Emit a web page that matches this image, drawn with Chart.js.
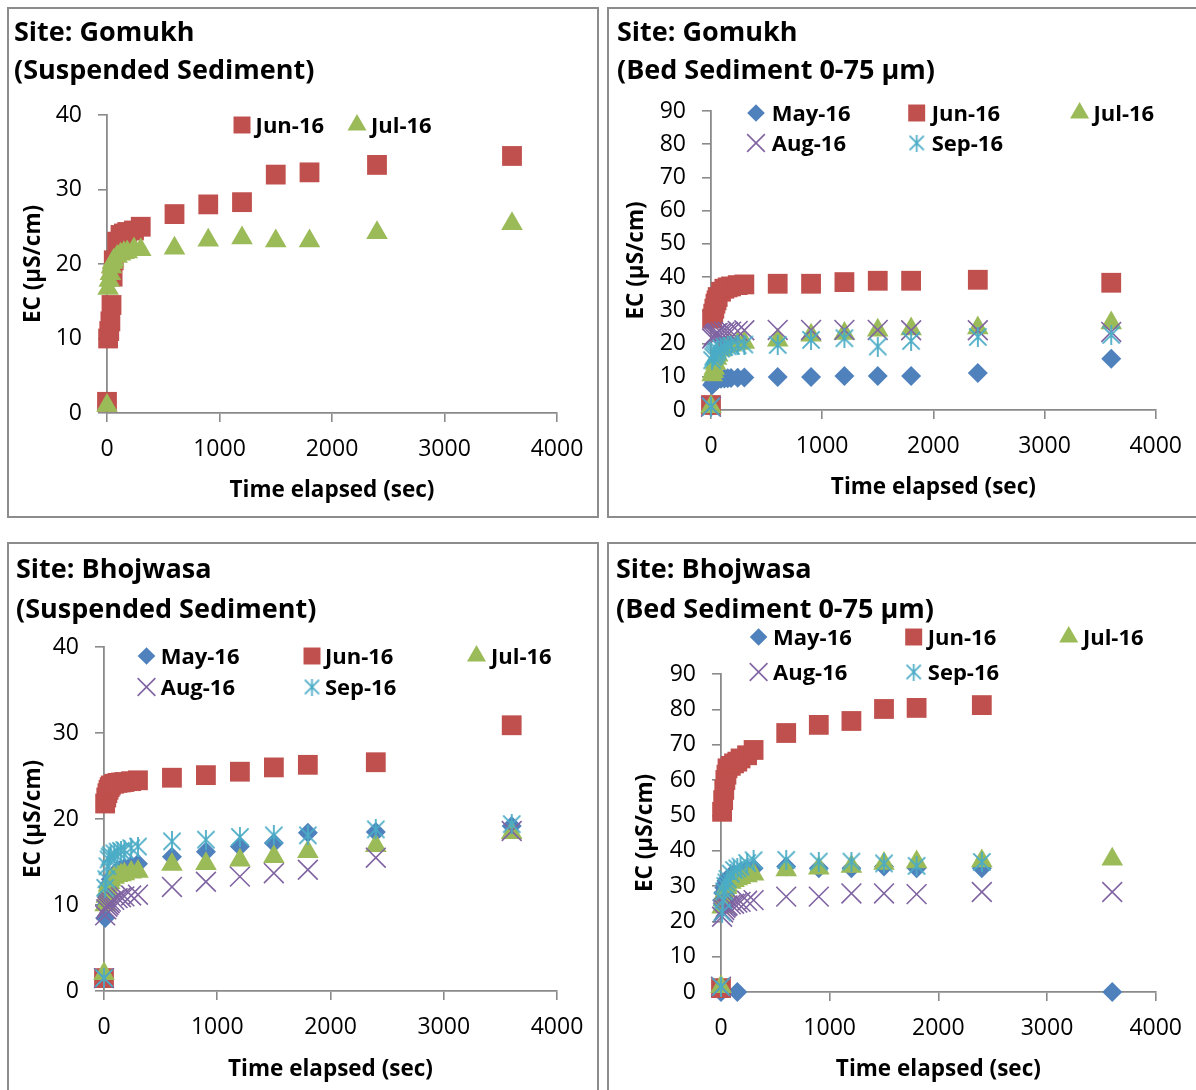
<!DOCTYPE html>
<html>
<head>
<meta charset="utf-8">
<title>EC vs time elapsed</title>
<script src="https://cdn.jsdelivr.net/npm/chart.js@4.4.1/dist/chart.umd.min.js"></script>
<style>
  html, body { margin: 0; padding: 0; background: #fff; overflow: hidden; }
  body { width: 1196px; height: 1090px; position: relative; }
  .frame { position: absolute; border: 2px solid #8c8c8c; box-sizing: border-box; }
  canvas { position: absolute; }
</style>
</head>
<body>
<div class="frame" style="left:7px;top:7px;width:592px;height:511px"></div>
<div class="frame" style="left:607px;top:7px;width:600px;height:511px"></div>
<div class="frame" style="left:7px;top:542px;width:592px;height:560px"></div>
<div class="frame" style="left:607px;top:542px;width:600px;height:560px"></div>
<canvas id="c1" width="590" height="509" style="left:8px;top:8px"></canvas>
<canvas id="c2" width="588" height="509" style="left:608px;top:8px"></canvas>
<canvas id="c3" width="590" height="547" style="left:8px;top:543px"></canvas>
<canvas id="c4" width="588" height="547" style="left:608px;top:543px"></canvas>
<script>
// sampling times of the test (sec)
const timeSec = [0, 10, 20, 30, 40, 50, 60, 90, 120, 150, 180, 240, 300, 600, 900, 1200, 1500, 1800, 2400, 3600];
const xTicks = [0, 1000, 2000, 3000, 4000];

// Gomukh - suspended sediment
const gomukhSusJun = [1.5, 10.0, 11.0, 12.3, 14.5, 18.3, 20.5, 23.0, 23.9, 24.1, 24.3, 24.5, 25.0, 26.7, 28.0, 28.3, 32.0, 32.3, 33.3, 34.5];
const gomukhSusJul = [1.0, 16.7, 17.8, 18.7, 19.6, 20.2, 20.5, 21.0, 21.3, 21.5, 21.6, 22.0, 21.9, 22.1, 23.2, 23.5, 23.1, 23.1, 24.2, 25.4];

// Gomukh - bed sediment 0-75 um
const gomukhBedMay = [1.0, 7.5, 8.0, 8.5, 8.8, 9.0, 9.2, 9.4, 9.5, 9.55, 9.6, 9.7, 9.8, 9.9, 9.9, 10.2, 10.2, 10.2, 11.1, 15.4];
const gomukhBedJun = [1.5, 27.5, 29.0, 30.5, 32.0, 33.0, 34.0, 35.6, 36.5, 36.9, 37.2, 37.6, 37.8, 38.0, 38.0, 38.5, 38.9, 38.9, 39.2, 38.3];
const gomukhBedJul = [1.0, 10.5, 11.5, 12.5, 14.0, 15.5, 16.5, 18.0, 19.0, 19.3, 19.5, 20.0, 20.3, 21.0, 22.5, 23.0, 24.0, 24.4, 24.7, 26.2];
const gomukhBedAug = [1.0, 21.5, 22.0, 22.5, 22.8, 23.0, 23.2, 23.3, 23.5, 23.5, 23.6, 23.8, 24.0, 24.1, 24.1, 24.1, 24.1, 24.0, 24.0, 23.5];
const gomukhBedSep = [1.0, 15.0, 16.0, 16.5, 17.0, 17.5, 18.0, 18.5, 19.0, 19.2, 19.3, 19.5, 19.7, 19.6, 21.1, 21.6, 19.1, 20.8, 22.0, 22.6];

// Bhojwasa - suspended sediment
const bhojSusMay = [1.5, 8.5, 10.0, 11.0, 12.0, 12.5, 13.0, 13.5, 14.0, 14.2, 14.3, 14.6, 14.8, 15.6, 16.2, 16.8, 17.2, 18.4, 18.5, 19.2];
const bhojSusJun = [1.5, 21.8, 22.5, 23.0, 23.4, 23.7, 23.9, 24.1, 24.2, 24.25, 24.3, 24.4, 24.5, 24.8, 25.1, 25.5, 26.0, 26.3, 26.6, 30.9];
const bhojSusJul = [2.0, 10.0, 11.0, 11.8, 12.3, 12.6, 12.9, 13.2, 13.4, 13.5, 13.6, 13.8, 13.9, 14.7, 14.8, 15.2, 15.6, 16.2, 16.9, 18.4];
const bhojSusAug = [1.5, 8.8, 9.5, 9.8, 10.0, 10.2, 10.4, 10.6, 10.8, 10.9, 11.0, 11.1, 11.2, 12.1, 12.7, 13.3, 13.7, 14.1, 15.5, 18.6];
const bhojSusSep = [1.5, 12.0, 13.0, 14.5, 15.3, 15.6, 15.8, 16.0, 16.2, 16.3, 16.4, 16.6, 16.8, 17.4, 17.6, 17.9, 18.1, 18.1, 18.8, 19.4];

// Bhojwasa - bed sediment 0-75 um
const bhojBedMay = [0, 26.0, 28.0, 29.5, 30.5, 31.5, 32.0, 33.0, 33.5, 0, 34.0, 34.5, 35.0, 35.5, 35.0, 35.0, 35.5, 35.0, 35.0, 0];
const bhojBedJun = [1.1, 51.0, 54.3, 57.2, 60.0, 61.5, 63.3, 64.0, 64.7, 65.2, 66.1, 67.0, 68.5, 73.3, 75.6, 76.7, 80.1, 80.4, 81.2, null];
const bhojBedJul = [1.5, 24.0, 26.0, 27.5, 28.5, 29.5, 30.0, 31.0, 31.5, 32.0, 32.3, 32.8, 33.3, 34.5, 35.0, 35.5, 36.4, 36.8, 37.1, 37.6];
const bhojBedAug = [1.5, 21.3, 22.5, 23.2, 23.8, 24.2, 24.5, 24.8, 25.0, 25.3, 25.5, 25.8, 26.0, 27.0, 27.0, 27.9, 27.9, 27.7, 28.3, 28.3];
const bhojBedSep = [1.5, 22.5, 26.0, 28.5, 30.0, 31.0, 32.0, 33.5, 34.5, 35.0, 35.5, 36.5, 37.3, 37.4, 36.9, 36.9, 36.4, 35.7, 36.8, null];

const FONT = "'Open Sans'";

// excel style asterisk marker (x with a vertical bar)
function asterisk(size, color, lw) {
  const c = document.createElement("canvas");
  c.width = size; c.height = size;
  const g = c.getContext("2d");
  g.strokeStyle = color;
  g.lineWidth = lw;
  const m = lw / 2 + 0.5, h = size / 2;
  g.beginPath();
  g.moveTo(m, m); g.lineTo(size - m, size - m);
  g.moveTo(size - m, m); g.lineTo(m, size - m);
  g.moveTo(h, 0); g.lineTo(h, size);
  g.stroke();
  return c;
}

const markers = {
  "May-16": { color: "#4F81BD", style: "rectRot", r: 10, lr: 8.8, bw: 0 },
  "Jun-16": { color: "#C0504D", style: "rect", r: 14, lr: 12, bw: 0 },
  "Jul-16": { color: "#9BBB59", style: "triangle", r: 12.5, lr: 11, bw: 0 },
  "Aug-16": { color: "#8064A2", style: "crossRot", r: 14, lr: 12.5, bw: 1.6 },
  "Sep-16": { color: "#4BACC6", style: asterisk(20, "#4BACC6", 1.8), legendStyle: asterisk(17, "#4BACC6", 1.7), r: 10, lr: 8.5, bw: 0 }
};
const drawOrder = { "May-16": 5, "Jun-16": 4, "Jul-16": 3, "Aug-16": 2, "Sep-16": 1 };

function points(values) {
  const out = [];
  values.forEach((v, i) => { if (v !== null) out.push({ x: timeSec[i], y: v }); });
  return out;
}

// titles and legend drawn onto the chart canvas
function panelText(p) {
  return {
    id: "panelText",
    afterDraw(chart) {
      const ctx = chart.ctx;
      ctx.save();
      ctx.fillStyle = "#000";
      ctx.textBaseline = "alphabetic";
      ctx.font = "bold 27px " + FONT;
      p.title.forEach((t, i) => ctx.fillText(t, p.titleX, p.titleY[i]));
      ctx.font = "bold 22px " + FONT;
      p.legend.forEach(item => {
        const m = markers[item.label];
        ctx.fillStyle = m.color;
        ctx.strokeStyle = m.color;
        ctx.lineWidth = m.bw;
        Chart.helpers.drawPoint(ctx, {
          pointStyle: m.legendStyle || m.style, rotation: 0, radius: m.lr, borderWidth: m.bw
        }, item.x, item.y);
        ctx.fillStyle = "#000";
        ctx.fillText(item.label, item.tx, item.y + 7.8);
      });
      ctx.restore();
    }
  };
}

function makeChart(id, p) {
  const canvas = document.getElementById(id);
  const W = canvas.width, H = canvas.height;
  const padL = 10;
  const datasets = p.series.map(([label, values]) => {
    const m = markers[label];
    return {
      label: label,
      data: points(values),
      pointStyle: m.style,
      pointRadius: m.r,
      pointBackgroundColor: m.color,
      pointBorderColor: m.color,
      pointBorderWidth: m.bw,
      showLine: false,
      clip: false,
      order: drawOrder[label]
    };
  });
  const axisGrid = { display: true, drawOnChartArea: false, drawTicks: true, tickLength: 9, color: "#8a8a8a", lineWidth: 1.6 };
  const axisBorder = { display: true, color: "#8a8a8a", width: 1.8 };
  return new Chart(canvas, {
    type: "scatter",
    data: { datasets: datasets },
    plugins: [panelText(p)],
    options: {
      responsive: false,
      animation: false,
      events: [],
      layout: { padding: { left: padL, top: p.area.top, right: W - p.area.right, bottom: 0 } },
      plugins: { legend: { display: false }, tooltip: { enabled: false }, title: { display: false } },
      scales: {
        x: {
          type: "linear", min: xTicks[0], max: xTicks[xTicks.length - 1],
          afterBuildTicks: s => { s.ticks = xTicks.map(v => ({ value: v })); },
          ticks: { padding: 14, color: "#000", font: { family: FONT, size: 23 }, maxRotation: 0, callback: v => String(v) },
          grid: axisGrid, border: axisBorder,
          title: { display: true, text: "Time elapsed (sec)", color: "#000", font: { family: FONT, size: 22.5, weight: "bold" }, padding: { top: 0, bottom: p.xTitlePad } },
          afterFit: s => { s.height = H - p.area.bottom; }
        },
        y: {
          type: "linear", min: 0, max: p.yMax,
          ticks: { stepSize: 10, padding: 16, color: "#000", font: { family: FONT, size: 23 }, callback: v => String(v) },
          grid: axisGrid, border: axisBorder,
          title: { display: true, text: "EC (µS/cm)", color: "#000", font: { family: FONT, size: 22.5, weight: "bold" }, padding: { top: p.yTitlePad, bottom: 0 } },
          afterFit: s => { s.width = p.area.left - padL; }
        }
      }
    }
  });
}

makeChart("c1", {
  area: { left: 99, top: 107, right: 549, bottom: 405 }, yMax: 40, yTitlePad: 2.5, xTitlePad: 12.5,
  title: ["Site: Gomukh", "(Suspended Sediment)"], titleX: 6, titleY: [32.7, 71.3],
  series: [["Jun-16", gomukhSusJun], ["Jul-16", gomukhSusJul]],
  legend: [
    { label: "Jun-16", x: 234, y: 117, tx: 247.6 },
    { label: "Jul-16", x: 349, y: 117, tx: 363 }
  ]
});

makeChart("c2", {
  area: { left: 103, top: 103, right: 549, bottom: 402 }, yMax: 90, yTitlePad: 5.5, xTitlePad: 15.5,
  title: ["Site: Gomukh", "(Bed Sediment 0-75 µm)"], titleX: 9, titleY: [32.7, 71.3],
  series: [["May-16", gomukhBedMay], ["Jun-16", gomukhBedJun], ["Jul-16", gomukhBedJul], ["Aug-16", gomukhBedAug], ["Sep-16", gomukhBedSep]],
  legend: [
    { label: "May-16", x: 148, y: 105, tx: 163.7 },
    { label: "Jun-16", x: 308.7, y: 105, tx: 323.7 },
    { label: "Jul-16", x: 471.6, y: 105, tx: 485.5 },
    { label: "Aug-16", x: 148, y: 135, tx: 163.7 },
    { label: "Sep-16", x: 308.7, y: 135, tx: 323.7 }
  ]
});

makeChart("c3", {
  area: { left: 96, top: 104, right: 549, bottom: 448 }, yMax: 40, yTitlePad: 2.5, xTitlePad: 6.5,
  title: ["Site: Bhojwasa", "(Suspended Sediment)"], titleX: 8, titleY: [35, 74.5],
  series: [["May-16", bhojSusMay], ["Jun-16", bhojSusJun], ["Jul-16", bhojSusJul], ["Aug-16", bhojSusAug], ["Sep-16", bhojSusSep]],
  legend: [
    { label: "May-16", x: 138.5, y: 113, tx: 152.7 },
    { label: "Jun-16", x: 304, y: 113, tx: 317 },
    { label: "Jul-16", x: 468.5, y: 113, tx: 483 },
    { label: "Aug-16", x: 138.5, y: 144, tx: 152.7 },
    { label: "Sep-16", x: 304, y: 144, tx: 317 }
  ]
});

makeChart("c4", {
  area: { left: 113, top: 131, right: 551, bottom: 449 }, yMax: 90, yTitlePad: 14.5, xTitlePad: 6.5,
  title: ["Site: Bhojwasa", "(Bed Sediment 0-75 µm)"], titleX: 8, titleY: [35, 74.5],
  series: [["May-16", bhojBedMay], ["Jun-16", bhojBedJun], ["Jul-16", bhojBedJul], ["Aug-16", bhojBedAug], ["Sep-16", bhojBedSep]],
  legend: [
    { label: "May-16", x: 150.6, y: 94, tx: 165 },
    { label: "Jun-16", x: 305.7, y: 94, tx: 319.8 },
    { label: "Jul-16", x: 460.7, y: 94, tx: 474.9 },
    { label: "Aug-16", x: 150.6, y: 129, tx: 165 },
    { label: "Sep-16", x: 305.7, y: 129, tx: 319.8 }
  ]
});
</script>
</body>
</html>
